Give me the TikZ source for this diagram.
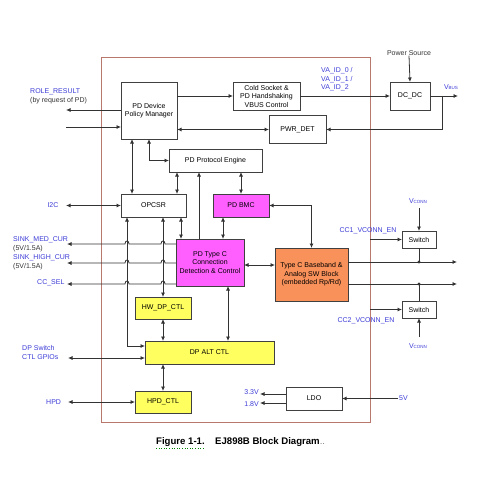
\documentclass[tikz,border=0pt]{standalone}
\usepackage{fontspec}
\setmainfont{Liberation Sans}
\usetikzlibrary{arrows.meta}
\definecolor{lblblue}{RGB}{60,60,215}
\definecolor{pdmag}{RGB}{255,95,255}
\definecolor{dpyel}{RGB}{255,255,95}
\definecolor{bborange}{RGB}{248,145,90}
\definecolor{chipedge}{RGB}{185,120,110}
\newcommand{\sml}[1]{\raisebox{-0.15ex}{\fontsize{4.5}{5}\selectfont #1}}
\begin{document}
\begin{tikzpicture}[x=1pt,y=-1pt,
    font=\fontsize{7}{8.5}\selectfont,
    blk/.style={draw=black!75,line width=0.8pt,align=center,inner sep=1pt,outer sep=0pt},
    lbl/.style={text=lblblue,inner sep=0pt,align=left},
    txt/.style={text=black!80,inner sep=0pt,align=left},
    arr/.style={line width=0.8pt,draw=black!80,-{Latex[length=4.5pt,width=4pt]}},
    arrs/.style={line width=0.8pt,draw=black!80,{Latex[length=4.5pt,width=4pt]}-{Latex[length=4.5pt,width=4pt]}},
    ln/.style={line width=0.8pt,draw=black!80}]
    \useasboundingbox (0,0) rectangle (500,500);
    %\draw [thick] chip boundary
    \draw[chipedge,line width=0.9pt] (101,57) rectangle (370,422);
    %
    \node[blk,minimum width=56,minimum height=57] (pdm) at (149,110.5) {PD Device\\Policy Manager};
    \node[blk,minimum width=67,minimum height=28] (cold) at (266.5,96) {Cold Socket \&\\PD Handshaking\\VBUS Control};
    \node[blk,minimum width=40,minimum height=28] (dcdc) at (410,96) {DC\_DC};
    \node[blk,minimum width=57,minimum height=28] (pwrdet) at (297.5,129.5) {PWR\_DET};
    \node[blk,minimum width=93,minimum height=23] (pe) at (215.5,160.5) {PD Protocol Engine};
    %
    \node[blk,minimum width=65,minimum height=23] (opcsr) at (153.5,205.5) {OPCSR};
    \node[blk,fill=pdmag,minimum width=56,minimum height=23] (bmc) at (241,205.5) {PD BMC};
    \node[blk,fill=pdmag,minimum width=68,minimum height=47] (pdtc) at (210,262.5) {PD Type C\\Connection\\Detection \& Control};
    \node[blk,fill=bborange,minimum width=73,minimum height=53] (base) at (311.5,274.5) {Type C Baseband \&\\Analog SW Block\\(embedded Rp/Rd)};
    \node[blk,minimum width=34,minimum height=17] (sw1) at (419,239.5) {Switch};
    \node[blk,minimum width=34,minimum height=17] (sw2) at (419,309.5) {Switch};
    %
    \node[blk,fill=dpyel,minimum width=56,minimum height=22] (hwdp) at (163,308) {HW\_DP\_CTL};
    \node[blk,fill=dpyel,minimum width=129,minimum height=23] (dpalt) at (209.5,352.5) {DP ALT CTL};
    \node[blk,fill=dpyel,minimum width=56,minimum height=22] (hpd) at (163,402) {HPD\_CTL};
    \node[blk,minimum width=56,minimum height=23] (ldo) at (314,398.5) {LDO};
    %
    \node[lbl,anchor=west] (rolelbl) at (30,92) {ROLE\_RESULT};
    \node[txt,anchor=west] (rolenote) at (30,101) {(by request of PD)};
    \node[lbl] (i2clbl) at (53,205.5) {I2C};
    \node[lbl,anchor=west] (medlbl) at (13,240) {SINK\_MED\_CUR};
    \node[txt,anchor=west] (mednote) at (13,249) {(5V/1.5A)};
    \node[lbl,anchor=west] (highlbl) at (13,258) {SINK\_HIGH\_CUR};
    \node[txt,anchor=west] (highnote) at (13,267) {(5V/1.5A)};
    \node[lbl,anchor=west] (ccsel) at (37,283) {CC\_SEL};
    \node[lbl,anchor=west] (gpiolbl) at (22,352.5) {DP Switch\\CTL GPIOs};
    \node[lbl,anchor=west] (hpdlbl) at (46,402) {HPD};
    \node[lbl,anchor=west] (valbl) at (321,79.5) {VA\_ID\_0 /\\VA\_ID\_1 /\\VA\_ID\_2};
    \node[txt] (psrc) at (409,53) {Power Source};
    \node[lbl] (vbuslbl) at (451,87) {V\sml{BUS}};
    \node[lbl] (vconn1) at (418,201) {V\sml{CONN}};
    \node[lbl] (vconn2) at (418,346) {V\sml{CONN}};
    \node[lbl] (cc1lbl) at (368,231) {CC1\_VCONN\_EN};
    \node[lbl] (cc2lbl) at (366,321) {CC2\_VCONN\_EN};
    \node[lbl,anchor=east] (v33lbl) at (259,392) {3.3V};
    \node[lbl,anchor=east] (v18lbl) at (259,404) {1.8V};
    \node[lbl,anchor=west] (fivelbl) at (399,398) {5V};
    %
    \coordinate (roleout) at (66,110);
    \coordinate (rolein) at (66,127);
    \coordinate (i2cend) at (66,205.5);
    \coordinate (gpioend) at (68,358);
    \coordinate (hpdend) at (68,402);
    \coordinate (vbusend) at (458,96);
    \coordinate (vbustap) at (442,96);
    \coordinate (cc1start) at (370,239.5);
    \coordinate (cc2start) at (370,309.5);
    \coordinate (vc1top) at (419,208);
    \coordinate (vc2bot) at (419,337);
    \coordinate (out1) at (457,262);
    \coordinate (out2) at (457,284);
    \coordinate (dot1) at (419,262);
    \coordinate (dot2) at (419,284);
    \coordinate (fivev) at (398,398.5);
    \coordinate (v33) at (260,394);
    \coordinate (v18) at (260,403);
    % top part
    \draw[arr] (pdm.west |- roleout) -- (roleout);
    \draw[arr] (rolein) -- (pdm.west |- rolein);
    \draw[arr] (pdm.east |- cold.west) -- (cold.west);
    \draw[arr] (cold.east) -- (dcdc.west);
    \draw[arr] (psrc.south) -- (dcdc.north);
    \draw[arr] (dcdc.east) -- (vbusend);
    \draw[arr] (vbustap) |- (pwrdet.east);
    \draw[arrs] (pdm.east |- pwrdet.west) -- (pwrdet.west);
    \draw[arrs] (pdm.south) |- (pe.west);
    \draw[arrs] (pdm.south -| 132,0) -- (opcsr.north -| 132,0);
    \draw[arrs] (opcsr.west) -- (i2cend);
    \draw[arrs] (pe.south -| 177,0) -- (opcsr.north -| 177,0);
    \draw[arrs] (pe.south -| bmc.north) -- (bmc.north);
    % middle part
    \draw[arrs] (opcsr.south -| 181,0) -- (pdtc.north -| 181,0);
    \draw[arrs] (bmc.south -| 223,0) -- (pdtc.north -| 223,0);
    \draw[arr] (pdtc.north -| 199,0) -- (pe.south -| 199,0);
    \draw[arrs] (opcsr.south -| 127,0) |- (dpalt.west |- 0,346);
    \draw[arrs] (opcsr.south -| hwdp.north) -- (hwdp.north);
    \foreach \yy in {244,263,284}
      \draw[arr] (pdtc.west |- 0,\yy) -- (165,\yy) .. controls (165,\yy-4) and (161,\yy-4) .. (161,\yy)
        -- (129,\yy) .. controls (129,\yy-4) and (125,\yy-4) .. (125,\yy) -- (67,\yy);
    \draw[arrs] (bmc.east) -| (base.north);
    \draw[arrs] (pdtc.east |- 0,265) -- (base.west |- 0,265);
    % bottom part
    \draw[arrs] (hwdp.south) -- (hwdp.south |- dpalt.north);
    \draw[arrs] (pdtc.south -| 228,0) -- (dpalt.north -| 228,0);
    \draw[arrs] (dpalt.west |- gpioend) -- (gpioend);
    \draw[arrs] (dpalt.south -| hpd.north) -- (hpd.north);
    \draw[arrs] (hpd.west) -- (hpdend);
    % right side
    \draw[arr] (base.east |- out1) -- (out1);
    \draw[arr] (base.east |- out2) -- (out2);
    \fill[black!80] (dot1) circle (1.6); \fill[black!80] (dot2) circle (1.6);
    \draw[ln] (sw1.south) -- (dot1);
    \draw[ln] (sw2.north) -- (dot2);
    \draw[arr] (vc1top) -- (sw1.north);
    \draw[arr] (vc2bot) -- (sw2.south);
    \draw[arr] (cc1start) -- (sw1.west);
    \draw[arr] (cc2start) -- (sw2.west);
    \draw[arr] (fivev) -- (ldo.east);
    \draw[arr] (ldo.west |- v33) -- (v33);
    \draw[arr] (ldo.west |- v18) -- (v18);
    % caption
    \node[inner sep=0pt,anchor=west,font=\fontsize{9.6}{11}\selectfont\bfseries] (figlbl) at (156,442) {Figure 1-1.};
    \node[inner sep=0pt,anchor=west,font=\fontsize{9.6}{11}\selectfont\bfseries] (figttl) at (215,442) {EJ898B Block Diagram{\mdseries\color{black!50}..}};
    \draw[green!50!black,dotted,line width=0.6pt] ([yshift=-1.5pt]figlbl.south west) -- ([yshift=-1.5pt]figlbl.south east);
\end{tikzpicture}
\end{document}
